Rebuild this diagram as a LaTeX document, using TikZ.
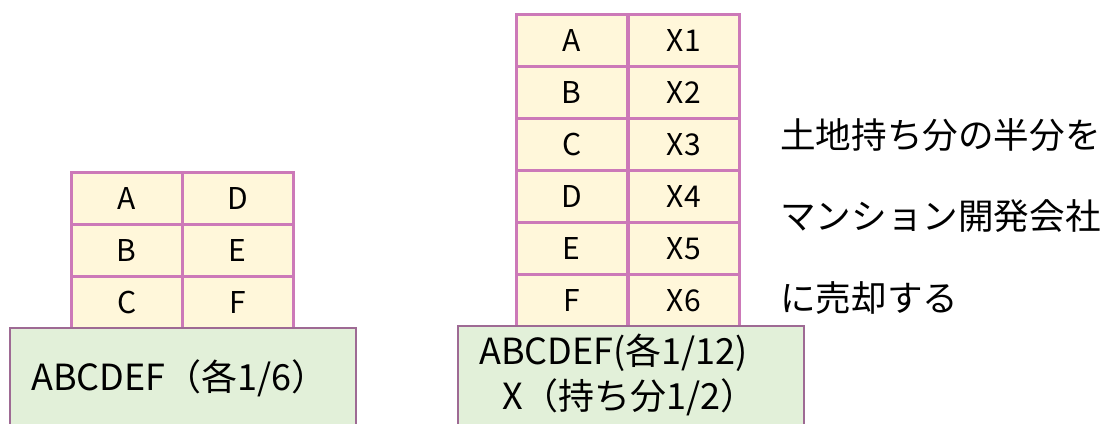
\documentclass[tikz,border=0pt]{standalone}
\usepackage{fontspec}
\setmainfont{Noto Sans CJK JP}
\definecolor{cellfill}{HTML}{FFF7DA}
\definecolor{cellline}{HTML}{CC79B8}
\definecolor{basefill}{HTML}{E2F0D9}
\definecolor{baseline}{HTML}{9E6A94}
\tikzset{
  cellbox/.style={draw=cellline, fill=cellfill, line width=1.9pt, minimum width=111*0.75pt, minimum height=52*0.75pt, inner sep=0pt, font=\fontsize{22.5}{26}\selectfont, anchor=north west},
  basebox/.style={draw=baseline, fill=basefill, line width=1.5pt, anchor=north west, inner sep=0pt},
  basetext/.style={font=\fontsize{27}{32}\selectfont, inner sep=0pt},
  sidetext/.style={font=\fontsize{26.7}{32}\selectfont, inner sep=0pt, anchor=west}
}
\begin{document}
\begin{tikzpicture}[x=0.75pt,y=-0.75pt]
\useasboundingbox (0,0) rectangle (1101,424);
% left table
\foreach \l/\r [count=\i from 0] in {A/D,B/E,C/F}{
  \node[cellbox] (L\i a) at (70,171+52*\i) {\l};
  \node[cellbox] (L\i b) at (181,171+52*\i) {\r};
}
\node[basebox, minimum width=346*0.75pt, minimum height=110*0.75pt] (lbase) at (9,327) {};
\node[basetext, anchor=west] (ltext) at (31,378) {ABCDEF（各1/6）};
% right table
\foreach \l/\r [count=\i from 0] in {A/X1,B/X2,C/X3,D/X4,E/X5,F/X6}{
  \node[cellbox] (R\i a) at (515,13+52*\i) {\l};
  \node[cellbox] (R\i b) at (627,13+52*\i) {\r};
}
\node[basebox, minimum width=346*0.75pt, minimum height=110*0.75pt] (rbase) at (457,325) {};
\node[basetext, anchor=west] (rtext1) at (479,353) {ABCDEF(各1/12)};
\node[basetext, anchor=west] (rtext2) at (502,397) {X（持ち分1/2）};
% side text
\node[sidetext] (s1) at (780,135) {土地持ち分の半分を};
\node[sidetext] (s2) at (780,216) {マンション開発会社};
\node[sidetext] (s3) at (780,298) {に売却する};
\end{tikzpicture}
\end{document}
